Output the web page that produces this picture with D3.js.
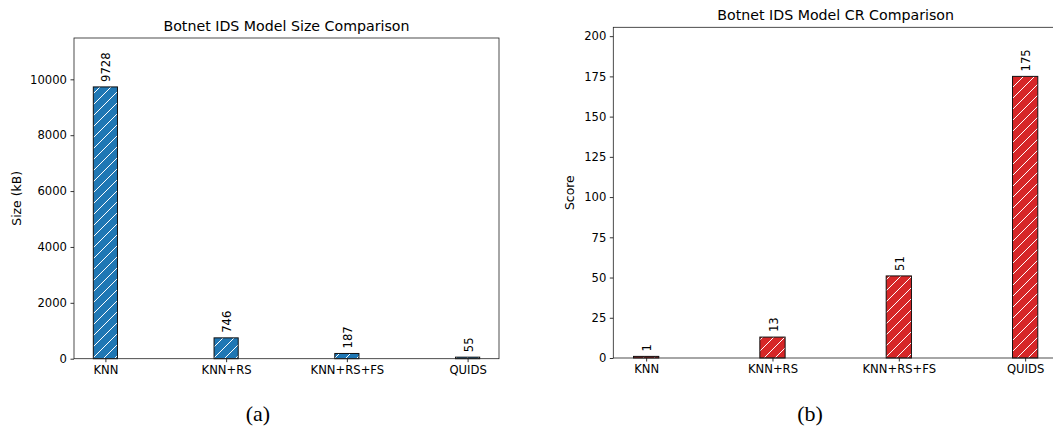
<!DOCTYPE html>
<html>
<head>
<meta charset="utf-8">
<script src="https://cdn.jsdelivr.net/npm/d3@7"></script>
<style>
  body { margin: 0; background: #fff; }
  svg { display: block; }
  text { font-family: "DejaVu Sans", sans-serif; fill: #000; }
</style>
</head>
<body>
<div class="chart"></div>
<script>
// data
var models = ["KNN", "KNN+RS", "KNN+RS+FS", "QUIDS"];
var sizes = [9728, 746, 187, 55];
var scores = [1, 13, 51, 175];
var sizeTicks = [0, 2000, 4000, 6000, 8000, 10000];
var scoreTicks = [0, 25, 50, 75, 100, 125, 150, 175, 200];

var w = 1053, h = 427;
var svg = d3.select(".chart").append("svg")
    .attr("width", w).attr("height", h);

// hatch patterns, one per colour
var defs = svg.append("defs");
function hatch(id, fill) {
    var s = 11;
    var p = defs.append("pattern")
        .attr("id", id)
        .attr("patternUnits", "userSpaceOnUse")
        .attr("width", s).attr("height", s);
    p.append("rect").attr("width", s).attr("height", s).attr("fill", fill);
    p.append("path")
        .attr("d", "M-1," + (s + 1) + " L" + (s + 1) + ",-1 M-3,3 L3,-3 M" + (s - 3) + "," + (s + 3) + " L" + (s + 3) + "," + (s - 3))
        .attr("stroke", "#fff")
        .attr("stroke-width", 1);
}
hatch("hatch_blue", "#1f77b4");
hatch("hatch_red", "#d62728");

// one panel = one matplotlib axes
function panel(opt) {
    var g = svg.append("g");
    var x_scale = d3.scaleLinear()
        .domain([-0.26, 3.26])
        .range([opt.left, opt.right]);
    var y_scale = d3.scaleLinear()
        .domain([0, opt.yMax])
        .range([opt.bottom, opt.top]);
    var bw = x_scale(0.2) - x_scale(0);

    // axes
    var x_axis = d3.axisBottom(x_scale)
        .tickValues(d3.range(opt.labels.length))
        .tickFormat(i => opt.labels[i])
        .tickSize(3.5).tickPadding(3.5);
    g.append("g")
        .attr("transform", "translate(0," + opt.bottom + ")")
        .call(x_axis);
    var y_axis = d3.axisLeft(y_scale)
        .tickValues(opt.ticks)
        .tickFormat(d3.format("d"))
        .tickSize(3.5).tickPadding(3.5);
    g.append("g")
        .attr("transform", "translate(" + opt.left + ",0)")
        .call(y_axis);
    g.selectAll(".tick text")
        .style("font-family", "DejaVu Sans")
        .style("font-size", "11.6px")
        .attr("fill", "#000");
    g.selectAll(".domain").remove();
    g.selectAll(".tick line").attr("stroke", "#000").attr("stroke-width", 0.8);

    // bars
    var bars = g.selectAll(".bar")
        .data(opt.values)
        .enter();
    bars.append("rect")
        .attr("class", "bar")
        .attr("x", (d, i) => x_scale(i) - bw / 2)
        .attr("y", d => y_scale(d))
        .attr("width", bw)
        .attr("height", d => opt.bottom - y_scale(d))
        .attr("fill", "url(#" + opt.pattern + ")")
        .attr("stroke", "#111")
        .attr("stroke-width", 1);

    // value labels, rotated
    bars.append("text")
        .attr("transform", (d, i) => "translate(" + (x_scale(i) + 1) + "," + (y_scale(d) - 5) + ") rotate(-90)")
        .attr("dy", "0.35em")
        .style("font-size", "11.6px")
        .style("text-anchor", "start")
        .text(d => d);

    // frame
    g.append("rect")
        .attr("x", opt.left).attr("y", opt.top)
        .attr("width", opt.right - opt.left)
        .attr("height", opt.bottom - opt.top)
        .attr("fill", "none")
        .attr("stroke", "#222")
        .attr("stroke-width", 0.8);

    // title and y label
    g.append("text")
        .attr("x", (opt.left + opt.right) / 2)
        .attr("y", opt.top - 7)
        .style("font-size", "14.2px")
        .style("text-anchor", "middle")
        .text(opt.title);
    g.append("text")
        .attr("transform", "translate(" + opt.yLabelX + "," + ((opt.top + opt.bottom) / 2) + ") rotate(-90)")
        .attr("dy", "0.35em")
        .style("font-size", "12.4px")
        .style("text-anchor", "middle")
        .text(opt.yLabel);

    // caption
    svg.append("text")
        .attr("x", opt.captionX)
        .attr("y", 421)
        .style("font-family", "Liberation Serif, serif")
        .style("font-size", "22px")
        .style("text-anchor", "middle")
        .text(opt.caption);
}

panel({
    left: 74, right: 499, top: 38, bottom: 358.7,
    yMax: 11479, values: sizes, labels: models, ticks: sizeTicks,
    pattern: "hatch_blue",
    title: "Botnet IDS Model Size Comparison",
    yLabel: "Size (kB)", yLabelX: 17,
    caption: "(a)", captionX: 258
});
panel({
    left: 613.3, right: 1058, top: 27.3, bottom: 358,
    yMax: 205.5, values: scores, labels: models, ticks: scoreTicks,
    pattern: "hatch_red",
    title: "Botnet IDS Model CR Comparison",
    yLabel: "Score", yLabelX: 570,
    caption: "(b)", captionX: 810
});
</script>
</body>
</html>
